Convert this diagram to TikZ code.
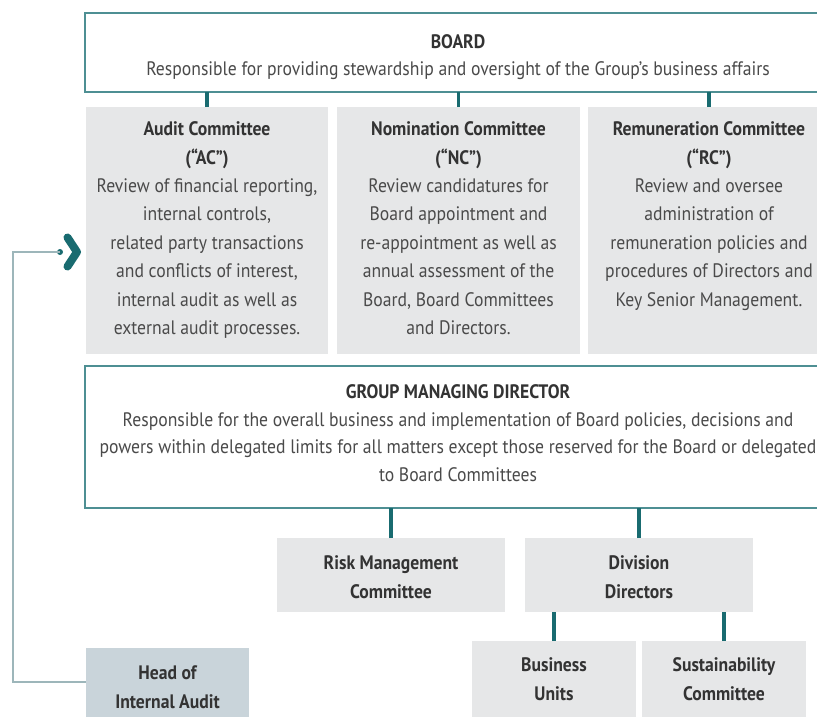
\documentclass[tikz,border=0pt]{standalone}
\usepackage{fontspec}
\setmainfont{PT Sans}[FakeStretch=0.905]
\definecolor{boxgray}{HTML}{E6E7E8}
\definecolor{headblue}{HTML}{C9D4DA}
\definecolor{tealL}{HTML}{4E8F93}
\definecolor{tealD}{HTML}{196B70}
\definecolor{fbline}{HTML}{9DB6BA}
\definecolor{txt}{HTML}{4A4A4A}
\definecolor{ttl}{HTML}{333333}
\newcommand{\ttlf}[1]{{\bfseries\color{ttl}#1}}
\begin{document}
\begin{tikzpicture}[x=1pt,y=-1pt,
  every node/.style={inner sep=0pt, outer sep=0pt},
  txtn/.style={text=txt, align=center,
    font=\fontsize{19.5}{28.4}\selectfont},
  topbox/.style={draw=tealL, line width=2pt, fill=white, anchor=north west},
  gbox/.style={fill=boxgray, anchor=north west},
  hbox/.style={fill=headblue, anchor=north west},
  conn/.style={draw=tealD, line width=3.5pt},
  fb/.style={draw=fbline, line width=1.5pt}]
\useasboundingbox (0,0) rectangle (817,716);
\clip (0,0) rectangle (817,716);

% Board
\node[topbox, minimum width=746, minimum height=79] (board) at (85,13) {};
\node[txtn, font=\fontsize{19.5}{27}\selectfont] (boardt) at (458,57)
  {\strut\ttlf{BOARD}\\Responsible for providing stewardship and oversight of the Group’s business affairs\strut};

% Committees
\node[gbox, minimum width=242, minimum height=247] (ac) at (86,107) {};
\node[gbox, minimum width=243, minimum height=247] (nc) at (337,107) {};
\node[gbox, minimum width=242, minimum height=247] (rc) at (588,107) {};
\node[txtn] (act) at (207,229.5)
  {\strut\ttlf{Audit Committee}\\\ttlf{(“AC”)}\\Review of financial reporting,\\internal controls,\\related party transactions\\and conflicts of interest,\\internal audit as well as\\external audit processes.\strut};
\node[txtn] (nct) at (458.5,229.5)
  {\strut\ttlf{Nomination Committee}\\\ttlf{(“NC”)}\\Review candidatures for\\Board appointment and\\re-appointment as well as\\annual assessment of the\\Board, Board Committees\\and Directors.\strut};
\node[txtn] (rct) at (709,229.5)
  {\strut\ttlf{Remuneration Committee}\\\ttlf{(“RC”)}\\Review and oversee\\administration of\\remuneration policies and\\procedures of Directors and\\Key Senior Management.\\\strut};

\draw[conn] (ac.north) -- (ac.north |- board.south);
\draw[conn] (nc.north) -- (nc.north |- board.south);
\draw[conn] (rc.north) -- (rc.north |- board.south);

% GMD
\node[topbox, minimum width=746, minimum height=142] (gmd) at (85,366) {};
\node[txtn, font=\fontsize{19.5}{27.7}\selectfont] (gmdt) at (458,434.5)
  {\strut\ttlf{GROUP MANAGING DIRECTOR}\\Responsible for the overall business and implementation of Board policies, decisions and\\powers within delegated limits for all matters except those reserved for the Board or delegated\\to Board Committees\strut};

% Lower boxes
\node[gbox, minimum width=228, minimum height=74] (risk) at (277,538) {};
\node[gbox, minimum width=228, minimum height=74] (div) at (525,538) {};
\node[gbox, minimum width=164, minimum height=78] (bu) at (472,641) {};
\node[gbox, minimum width=164, minimum height=78] (sc) at (642,641) {};
\node[hbox, minimum width=163, minimum height=72] (head) at (86,648) {};
\node[txtn, font=\fontsize{19.5}{29}\selectfont] (riskt) at (391,578.5) {\strut\ttlf{Risk Management}\\\ttlf{Committee}\strut};
\node[txtn, font=\fontsize{19.5}{29}\selectfont] (divt) at (639,578.5) {\strut\ttlf{Division}\\\ttlf{Directors}\strut};
\node[txtn, font=\fontsize{19.5}{29}\selectfont] (but) at (554,680.5) {\strut\ttlf{Business}\\\ttlf{Units}\strut};
\node[txtn, font=\fontsize{19.5}{29}\selectfont] (sct) at (724,680.5) {\strut\ttlf{Sustainability}\\\ttlf{Committee}\strut};
\node[txtn, font=\fontsize{19.5}{29}\selectfont] (headt) at (167.5,688.5) {\strut\ttlf{Head of}\\\ttlf{Internal Audit}\strut};

\draw[conn] (risk.north) -- (risk.north |- gmd.south);
\draw[conn] (div.north) -- (div.north |- gmd.south);
\draw[conn] (bu.north) -- (bu.north |- div.south);
\draw[conn] (sc.north) -- (sc.north |- div.south);

% Feedback line to Audit Committee
\coordinate (fbc) at (13,252);
\coordinate (fbh) at (86,682);
\node[circle, fill=tealD, minimum size=6pt] (dot) at (60,252) {};
\draw[fb] (fbh) -| (fbc) -- (dot.center);
\draw[tealD, line width=8pt, line cap=round, line join=round]
  (67.5,237.5) -- (77,252) -- (67.5,266.5);
\end{tikzpicture}
\end{document}
